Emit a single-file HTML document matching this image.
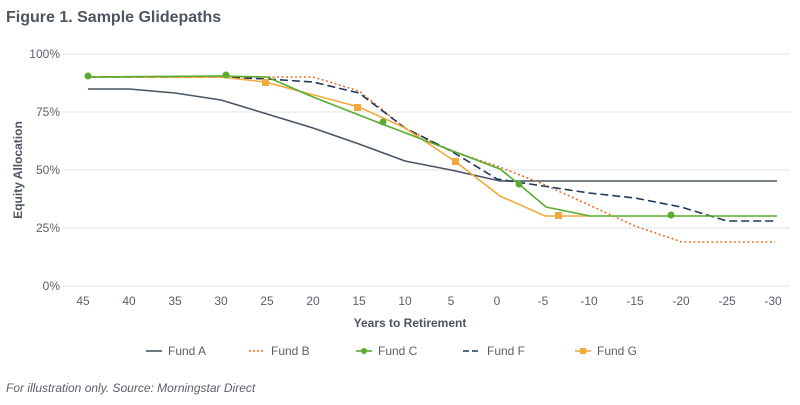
<!DOCTYPE html>
<html><head><meta charset="utf-8"><style>
body{margin:0;background:#fff;font-family:"Liberation Sans",sans-serif}
</style></head><body>
<svg width="800" height="400" xmlns="http://www.w3.org/2000/svg" font-family="Liberation Sans, sans-serif">
<text x="6" y="22" font-size="16" font-weight="bold" fill="#4d5560">Figure 1. Sample Glidepaths</text>
<g stroke="#e2e2e2" stroke-width="1">
<line x1="62" y1="54" x2="790" y2="54"/><line x1="62" y1="112" x2="790" y2="112"/>
<line x1="62" y1="170" x2="790" y2="170"/><line x1="62" y1="228" x2="790" y2="228"/>
<line x1="62" y1="286" x2="790" y2="286"/></g>
<g font-size="12" fill="#5a6068" text-anchor="end">
<text x="60" y="58">100%</text><text x="60" y="116">75%</text><text x="60" y="174">50%</text><text x="60" y="232">25%</text><text x="60" y="290">0%</text></g>
<g font-size="12" fill="#5a6068" text-anchor="middle">
<text x="83" y="305">45</text><text x="129" y="305">40</text><text x="175" y="305">35</text><text x="221" y="305">30</text><text x="267" y="305">25</text><text x="313" y="305">20</text><text x="359" y="305">15</text><text x="405" y="305">10</text><text x="451" y="305">5</text><text x="497" y="305">0</text><text x="543" y="305">-5</text><text x="589" y="305">-10</text><text x="635" y="305">-15</text><text x="681" y="305">-20</text><text x="727" y="305">-25</text><text x="773" y="305">-30</text></g>
<text x="410" y="327" font-size="12" font-weight="bold" fill="#4d5560" text-anchor="middle">Years to Retirement</text>
<text transform="translate(22,170) rotate(-90)" font-size="12" font-weight="bold" fill="#4d5560" text-anchor="middle">Equity Allocation</text>
<g fill="none" stroke-width="1.6">
<polyline stroke="#4a5565" points="88,89 129,89 175,93 221,100 267,114 313,128 359,144 405,161 451,170 500,181 777,181"/>
<polyline stroke="#e8702a" stroke-dasharray="2,2.5" points="88,77 313,77 359,91 405,128 451,151 497,166 543,184 589,205 635,226 682,242 775,242"/>
<polyline stroke="#1f3a5a" stroke-dasharray="8,4" points="88,77 221,77 267,79 313,82 359,93 405,128 451,151 497,179 543,186 589,193 635,198 681,207 727,221 777,221"/>
<polyline stroke="#f2a93b" points="88,77 221,77 265,82 359,107 405,128 456,162 500,196 545,216 590,216"/>
<polyline stroke="#5aab2e" points="88,77 221,76 267,77 313,97 382,124 500,169 520,185 546,207 590,216 777,216"/>
</g>
<g fill="#5aab2e"><circle cx="88" cy="76" r="3.5"/><circle cx="226" cy="75" r="3.5"/><circle cx="383" cy="122" r="3.5"/><circle cx="519" cy="184" r="3.5"/><circle cx="671" cy="215" r="3.5"/></g>
<g fill="#f2a93b"><rect x="262" y="79" width="7" height="7"/><rect x="354" y="104" width="7" height="7"/><rect x="452" y="158" width="7" height="7"/><rect x="555" y="212" width="7" height="7"/></g>
<g font-size="12" fill="#5a6068">
<line x1="146" y1="351" x2="162" y2="351" stroke="#4a5565" stroke-width="1.6"/><text x="168" y="355">Fund A</text>
<line x1="249" y1="351" x2="265" y2="351" stroke="#e8702a" stroke-width="1.6" stroke-dasharray="2,2"/><text x="271" y="355">Fund B</text>
<line x1="356" y1="351" x2="372" y2="351" stroke="#5aab2e" stroke-width="1.6"/><circle cx="364" cy="351" r="3" fill="#5aab2e"/><text x="378" y="355">Fund C</text>
<line x1="463" y1="351" x2="479" y2="351" stroke="#1f3a5a" stroke-width="1.6" stroke-dasharray="6,3"/><text x="487" y="355">Fund F</text>
<line x1="575" y1="351" x2="591" y2="351" stroke="#f2a93b" stroke-width="1.6"/><rect x="580" y="348" width="6" height="6" fill="#f2a93b"/><text x="597" y="355">Fund G</text>
</g>
<text x="6" y="392" font-size="12" font-style="italic" fill="#5a6068">For illustration only. Source: Morningstar Direct</text>
</svg>
</body></html>
